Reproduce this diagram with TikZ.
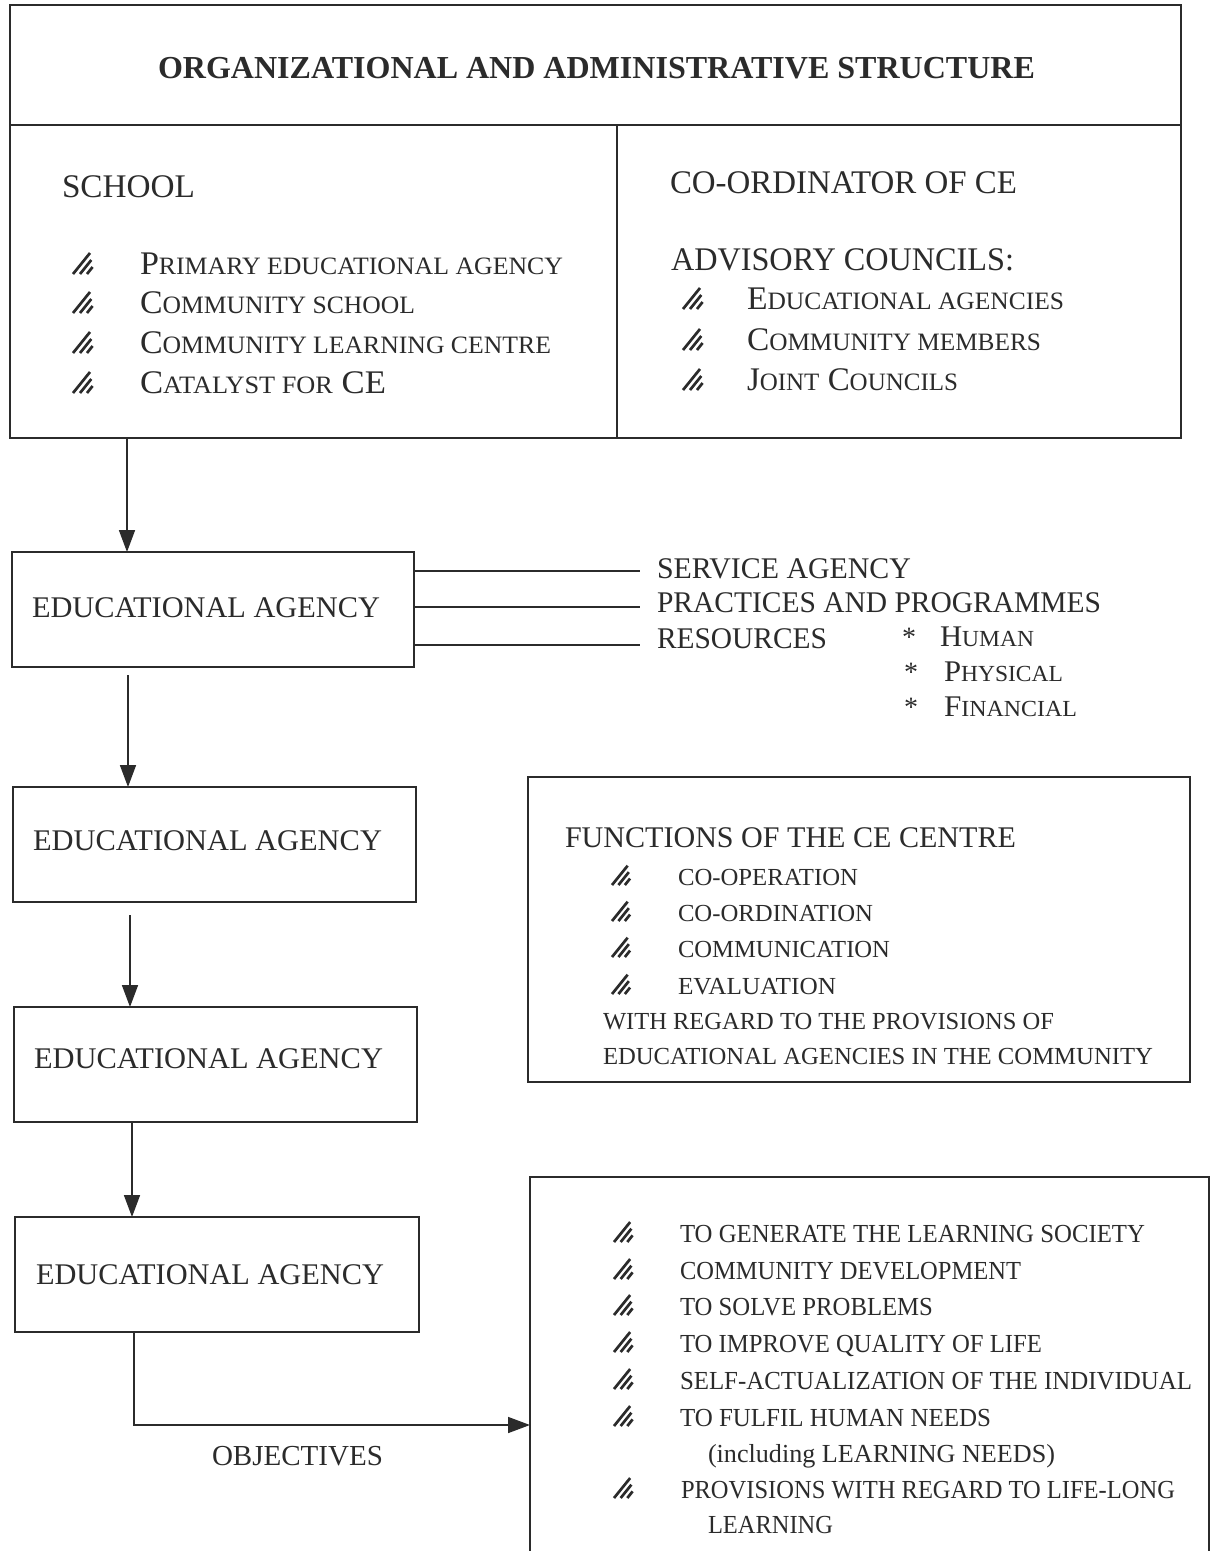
\documentclass[tikz,border=0pt]{standalone}
\usepackage{fontspec}
\setmainfont{Liberation Serif}
\usepackage{graphicx}
\usetikzlibrary{arrows.meta}
\definecolor{ink}{HTML}{2B2B2B}
\newcommand\fw[2]{\resizebox{#1pt}{\height}{#2}}
\newcommand\fsz[1]{\fontsize{#1pt}{#1pt}\selectfont}
\newcommand\scA[1]{{\fsz{25}#1}}
\newcommand\scB[1]{{\fsz{23}#1}}
\begin{document}
\begin{tikzpicture}[x=1pt,y=-1pt,
  txt/.style={anchor=base west, inner sep=0pt, outer sep=0pt, text=ink},
  frame/.style={draw=ink, line width=1.6pt, inner sep=0pt, outer sep=0pt, anchor=north west},
  conn/.style={draw=ink, line width=1.6pt},
  arr/.style={conn, -{Triangle[width=16pt,length=22pt]}},
  hatch/.pic={\draw[ink, line width=2.7pt] (0,0)--(17,-21) (7,0)--(18.3,-14) (14,0)--(19.6,-7);}]
\path[use as bounding box, fill=white] (0,0) rectangle (1214,1551);

% ---------- top structure box ----------
\node[frame, minimum width=1171pt, minimum height=120pt] (head) at (10,5) {};
\node[frame, minimum width=607pt, minimum height=313pt] (school) at (10,125) {};
\node[frame, minimum width=564pt, minimum height=313pt] (coord) at (617,125) {};

\node[txt] (title) at (158,78) {\fw{877}{\bfseries\fsz{32}ORGANIZATIONAL AND ADMINISTRATIVE STRUCTURE}};

\node[txt] (tschool) at (62,197) {\fw{133}{\fsz{33}SCHOOL}};
\pic at (73,274) {hatch}; \node[txt] (s1) at (140,274) {\fw{423}{\fsz{33}P\scA{RIMARY EDUCATIONAL AGENCY}}};
\pic at (73,313) {hatch}; \node[txt] (s2) at (140,313) {\fw{275}{\fsz{33}C\scA{OMMUNITY SCHOOL}}};
\pic at (73,353) {hatch}; \node[txt] (s3) at (140,353) {\fw{411}{\fsz{33}C\scA{OMMUNITY LEARNING CENTRE}}};
\pic at (73,393) {hatch}; \node[txt] (s4) at (140,393) {\fw{246}{\fsz{33}C\scA{ATALYST FOR} CE}};

\node[txt] (tcoord) at (670,193) {\fw{347}{\fsz{33}CO-ORDINATOR OF CE}};
\node[txt] (tadv) at (671,270) {\fw{343}{\fsz{33}ADVISORY COUNCILS:}};
\pic at (683,309) {hatch}; \node[txt] (c1) at (747,309) {\fw{317}{\fsz{33}E\scA{DUCATIONAL AGENCIES}}};
\pic at (683,350) {hatch}; \node[txt] (c2) at (747,350) {\fw{294}{\fsz{33}C\scA{OMMUNITY MEMBERS}}};
\pic at (683,390) {hatch}; \node[txt] (c3) at (747,390) {\fw{211}{\fsz{33}J\scA{OINT} C\scA{OUNCILS}}};

% ---------- educational agency boxes ----------
\node[frame, minimum width=402pt, minimum height=115pt] (ea1) at (12,552) {};
\node[frame, minimum width=403pt, minimum height=115pt] (ea2) at (13,787) {};
\node[frame, minimum width=403pt, minimum height=115pt] (ea3) at (14,1007) {};
\node[frame, minimum width=404pt, minimum height=115pt] (ea4) at (15,1217) {};
\node[txt] (tea1) at (32,617) {\fw{348}{\fsz{30}EDUCATIONAL AGENCY}};
\node[txt] (tea2) at (33,850) {\fw{349}{\fsz{30}EDUCATIONAL AGENCY}};
\node[txt] (tea3) at (34,1068) {\fw{349}{\fsz{30}EDUCATIONAL AGENCY}};
\node[txt] (tea4) at (36,1284) {\fw{348}{\fsz{30}EDUCATIONAL AGENCY}};

% arrows down the left column
\coordinate (a1) at (127,0);
\coordinate (a2) at (128,675);
\coordinate (a3) at (130,915);
\coordinate (a4) at (132,0);
\coordinate (a5) at (134,1425);
\coordinate (objTL) at (530,1177);
\coordinate (objTR) at (1209,1177);
\draw[arr] (school.south -| a1) -- (ea1.north -| a1);
\draw[arr] (a2) -- (ea2.north -| a2);
\draw[arr] (a3) -- (ea3.north -| a3);
\draw[arr] (ea3.south -| a4) -- (ea4.north -| a4);
\draw[arr] (ea4.south -| a5) -- (a5) -- (objTL |- a5);

% ---------- branches from first agency ----------
\coordinate (l1) at (640,571);
\coordinate (l2) at (640,607);
\coordinate (l3) at (640,645);
\draw[conn] (ea1.east |- l1) -- (l1);
\draw[conn] (ea1.east |- l2) -- (l2);
\draw[conn] (ea1.east |- l3) -- (l3);
\node[txt] (svc) at (657,578) {\fw{254}{\fsz{30}SERVICE AGENCY}};
\node[txt] (prac) at (657,612) {\fw{444}{\fsz{30}PRACTICES AND PROGRAMMES}};
\node[txt] (res) at (657,648) {\fw{170}{\fsz{30}RESOURCES}};
\node[txt] (st1) at (902,646) {\fsz{28}*};
\node[txt] (st2) at (904,681) {\fsz{28}*};
\node[txt] (st3) at (904,716) {\fsz{28}*};
\node[txt] (hum) at (940,646) {\fw{94}{\fsz{30}H\scB{UMAN}}};
\node[txt] (phy) at (944,681) {\fw{119}{\fsz{30}P\scB{HYSICAL}}};
\node[txt] (fin) at (944,716) {\fw{133}{\fsz{30}F\scB{INANCIAL}}};

% ---------- functions box ----------
\node[frame, minimum width=662pt, minimum height=305pt] (func) at (528,777) {};
\node[txt] (tfunc) at (565,847) {\fw{451}{\fsz{30}FUNCTIONS OF THE CE CENTRE}};
\pic[scale=0.92] at (612,885) {hatch}; \node[txt] (f1) at (678,885) {\fw{180}{\fsz{24.5}CO-OPERATION}};
\pic[scale=0.92] at (612,921) {hatch}; \node[txt] (f2) at (678,921) {\fw{195}{\fsz{24.5}CO-ORDINATION}};
\pic[scale=0.92] at (612,957) {hatch}; \node[txt] (f3) at (678,957) {\fw{212}{\fsz{24.5}COMMUNICATION}};
\pic[scale=0.92] at (612,994) {hatch}; \node[txt] (f4) at (678,994) {\fw{158}{\fsz{24.5}EVALUATION}};
\node[txt] (w1) at (603,1029) {\fw{451}{\fsz{24.5}WITH REGARD TO THE PROVISIONS OF}};
\node[txt] (w2) at (603,1064) {\fw{550}{\fsz{24.5}EDUCATIONAL AGENCIES IN THE COMMUNITY}};

% ---------- objectives box (runs off the page bottom) ----------
\draw[conn] (objTL |- 0,1551) -- (objTL) -- (objTR) -- (objTR |- 0,1551);
\node[txt] (tobj) at (212,1465) {\fw{171}{\fsz{29}OBJECTIVES}};
\pic[scale=0.95] at (614,1242) {hatch}; \node[txt] (o1) at (680,1242) {\fw{465}{\fsz{26}TO GENERATE THE LEARNING SOCIETY}};
\pic[scale=0.95] at (614,1279) {hatch}; \node[txt] (o2) at (680,1279) {\fw{341}{\fsz{26}COMMUNITY DEVELOPMENT}};
\pic[scale=0.95] at (614,1315) {hatch}; \node[txt] (o3) at (680,1315) {\fw{253}{\fsz{26}TO SOLVE PROBLEMS}};
\pic[scale=0.95] at (614,1352) {hatch}; \node[txt] (o4) at (680,1352) {\fw{362}{\fsz{26}TO IMPROVE QUALITY OF LIFE}};
\pic[scale=0.95] at (614,1389) {hatch}; \node[txt] (o5) at (680,1389) {\fw{512}{\fsz{26}SELF-ACTUALIZATION OF THE INDIVIDUAL}};
\pic[scale=0.95] at (614,1426) {hatch}; \node[txt] (o6) at (680,1426) {\fw{311}{\fsz{26}TO FULFIL HUMAN NEEDS}};
\node[txt] (o6b) at (708,1462) {\fw{347}{\fsz{26}(including LEARNING NEEDS)}};
\pic[scale=0.95] at (614,1498) {hatch}; \node[txt] (o7) at (681,1498) {\fw{494}{\fsz{26}PROVISIONS WITH REGARD TO LIFE-LONG}};
\node[txt] (o7b) at (708,1533) {\fw{125}{\fsz{26}LEARNING}};
\end{tikzpicture}
\end{document}
